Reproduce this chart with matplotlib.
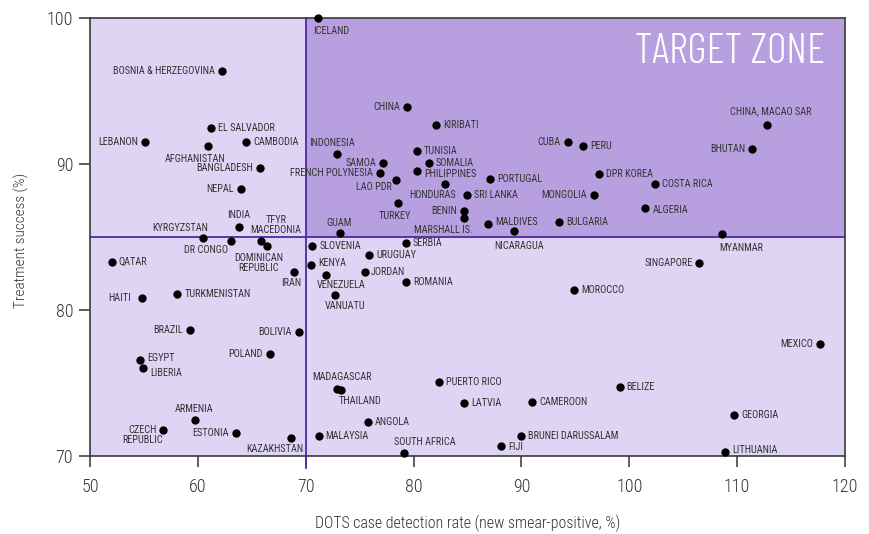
import matplotlib
matplotlib.use('Agg')
import matplotlib.pyplot as plt

# ---------------- data ----------------
countries = [
    "ICELAND", "BOSNIA & HERZEGOVINA", "CHINA", "KIRIBATI", "CHINA, MACAO SAR",
    "LEBANON", "EL SALVADOR", "CAMBODIA", "AFGHANISTAN", "INDONESIA",
    "TUNISIA", "CUBA", "PERU", "BHUTAN", "SAMOA", "SOMALIA", "BANGLADESH",
    "FRENCH POLYNESIA", "PHILIPPINES", "PORTUGAL", "DPR KOREA", "COSTA RICA",
    "LAO PDR", "HONDURAS", "SRI LANKA", "MONGOLIA", "NEPAL", "BENIN", "ALGERIA",
    "TURKEY", "MARSHALL IS.", "MALDIVES", "BULGARIA", "INDIA", "TFYR\nMACEDONIA",
    "KYRGYZSTAN", "GUAM", "DR CONGO", "SLOVENIA", "SERBIA", "NICARAGUA",
    "MYANMAR", "URUGUAY", "DOMINICAN\nREPUBLIC", "QATAR", "KENYA", "SINGAPORE",
    "IRAN", "JORDAN", "VENEZUELA", "ROMANIA", "MOROCCO", "HAITI", "TURKMENISTAN",
    "VANUATU", "BRAZIL", "BOLIVIA", "MEXICO", "MADAGASCAR", "POLAND", "EGYPT",
    "PUERTO RICO", "LIBERIA", "THAILAND", "BELIZE", "LATVIA", "CAMEROON",
    "ARMENIA", "ANGOLA", "GEORGIA", "CZECH\nREPUBLIC", "ESTONIA", "MALAYSIA",
    "BRUNEI DARUSSALAM", "KAZAKHSTAN", "SOUTH AFRICA", "FIJI", "LITHUANIA",
]
detection_rate = [
    71.1, 62.2, 79.4, 82.1, 112.8,
    55.1, 61.2, 64.5, 60.9, 72.9,
    80.3, 94.3, 95.7, 111.4, 77.2, 81.4, 65.8,
    76.9, 80.3, 87.1, 97.2, 102.4,
    78.4, 82.9, 85.0, 96.7, 64.0, 84.7, 101.5,
    78.6, 84.7, 86.9, 93.5, 63.8, 65.9,
    60.5, 73.2, 63.1, 70.6, 79.3, 89.3,
    108.6, 75.9, 66.4, 52.0, 70.5, 106.5,
    68.9, 75.5, 71.9, 79.3, 94.9, 54.8, 58.1,
    72.7, 59.3, 69.4, 117.7, 72.9, 66.7, 54.6,
    82.4, 54.9, 73.3, 99.1, 84.7, 91.0,
    59.7, 75.8, 109.7, 56.8, 63.5, 71.2,
    90.0, 68.6, 79.1, 88.1, 108.9,
]
treatment_success = [
    100.0, 96.4, 93.9, 92.7, 92.7,
    91.5, 92.5, 91.5, 91.2, 90.7,
    90.9, 91.5, 91.2, 91.0, 90.1, 90.1, 89.7,
    89.4, 89.5, 89.0, 89.3, 88.6,
    88.9, 88.6, 87.9, 87.9, 88.3, 86.8, 87.0,
    87.3, 86.3, 85.9, 86.0, 85.7, 84.7,
    84.9, 85.3, 84.7, 84.4, 84.6, 85.4,
    85.2, 83.8, 84.4, 83.3, 83.1, 83.2,
    82.6, 82.6, 82.4, 81.9, 81.4, 80.8, 81.1,
    81.0, 78.6, 78.5, 77.7, 74.6, 77.0, 76.6,
    75.1, 76.0, 74.5, 74.7, 73.6, 73.7,
    72.5, 72.3, 72.8, 71.8, 71.6, 71.4,
    71.4, 71.2, 70.2, 70.7, 70.3,
]
x_ticks = [50, 60, 70, 80, 90, 100, 110, 120]
y_ticks = [70, 80, 90, 100]
target_x = 70
target_y = 85

# ---------------- label placement (pixel offsets, style only) ----------------
R = (7, 0, 'left')
L = (-7, 0, 'right')
label_style = {
    "ICELAND": (-4, -12.7, 'left'), "BOSNIA & HERZEGOVINA": L, "CHINA": L,
    "KIRIBATI": R, "CHINA, MACAO SAR": (3, 13, 'center'), "LEBANON": L,
    "EL SALVADOR": R, "CAMBODIA": R, "AFGHANISTAN": (-12, -12.6, 'center'),
    "INDONESIA": (-5, 11, 'center'), "TUNISIA": R, "CUBA": L, "PERU": R,
    "BHUTAN": L, "SAMOA": L, "SOMALIA": R, "BANGLADESH": L,
    "FRENCH POLYNESIA": L, "PHILIPPINES": (7, -2.5, 'left'), "PORTUGAL": R,
    "DPR KOREA": R, "COSTA RICA": R, "LAO PDR": (-4, -6.7, 'right'),
    "HONDURAS": (-12.5, -11, 'center'), "SRI LANKA": R, "MONGOLIA": L,
    "NEPAL": L, "BENIN": L, "ALGERIA": (7, -2, 'left'),
    "TURKEY": (-4, -12.4, 'center'), "MARSHALL IS.": (-21, -11.6, 'center'),
    "MALDIVES": (7, 2, 'left'), "BULGARIA": R, "INDIA": (0, 11.3, 'center'),
    "TFYR\nMACEDONIA": (14.6, 16.7, 'center'), "KYRGYZSTAN": (-23, 10, 'center'),
    "GUAM": (-1, 10, 'center'), "DR CONGO": (-25, -9, 'center'),
    "SLOVENIA": R, "SERBIA": R, "NICARAGUA": (5, -15, 'center'),
    "MYANMAR": (19, -14, 'center'), "URUGUAY": R,
    "DOMINICAN\nREPUBLIC": (-8.5, -17, 'center'), "QATAR": R,
    "KENYA": (7, 1.5, 'left'), "SINGAPORE": L, "IRAN": (-3, -10.6, 'center'),
    "JORDAN": (6, 0, 'left'), "VENEZUELA": (15, -10.3, 'center'),
    "ROMANIA": R, "MOROCCO": R, "HAITI": (-10.7, 0, 'right'),
    "TURKMENISTAN": R, "VANUATU": (10, -11, 'center'), "BRAZIL": L,
    "BOLIVIA": (-8, 0, 'right'), "MEXICO": L,
    "MADAGASCAR": (4.6, 12, 'center'), "POLAND": L, "EGYPT": (7.5, 2, 'left'),
    "PUERTO RICO": R, "LIBERIA": (7, -5, 'left'),
    "THAILAND": (18.7, -11, 'center'), "BELIZE": R, "LATVIA": R,
    "CAMEROON": R, "ARMENIA": (-1, 10.7, 'center'), "ANGOLA": R,
    "GEORGIA": R, "CZECH\nREPUBLIC": (-21, -5.7, 'center'), "ESTONIA": L,
    "MALAYSIA": R, "BRUNEI DARUSSALAM": R,
    "KAZAKHSTAN": (-16, -10.6, 'center'), "SOUTH AFRICA": (21, 11, 'center'),
    "FIJI": (7, -1.5, 'left'), "LITHUANIA": (7, 2, 'left'),
}

FONT = ['Roboto Condensed', 'DejaVu Sans']
plt.rcParams['font.family'] = FONT

LIGHT_BG = '#E0D4F4'
ZONE_BG = '#B8A0E0'
DIVIDER = '#4A2AA8'
TEXT = '#333333'

fig = plt.figure(figsize=(8.69, 5.34), dpi=100)
ax = fig.add_axes([90 / 869, 78 / 534, 755 / 869, 438 / 534])
ax.set_facecolor(LIGHT_BG)
ax.set_xlim(x_ticks[0], x_ticks[-1])
ax.set_ylim(y_ticks[0], y_ticks[-1])

ax.add_patch(plt.Rectangle((target_x, target_y), x_ticks[-1] - target_x,
                           y_ticks[-1] - target_y, facecolor=ZONE_BG,
                           edgecolor='none', zorder=0))
ax.axhline(target_y, color=DIVIDER, lw=1.3, zorder=1)
ax.plot([target_x, target_x], [-0.027, 1], transform=ax.get_xaxis_transform(),
        color=DIVIDER, lw=1.3, zorder=3, clip_on=False)

ax.scatter(detection_rate, treatment_success, s=36, color='black', zorder=4,
           clip_on=False, linewidths=0)

for name, xv, yv in zip(countries, detection_rate, treatment_success):
    dx, dy, ha = label_style[name]
    ax.annotate(name, (xv, yv), xytext=(dx, dy), textcoords='offset pixels',
                ha=ha, va='center', ma='center', fontsize=7.4, color=TEXT,
                linespacing=1.0, zorder=5)

ax.text(0.9735, 0.9217, 'TARGET ZONE', transform=ax.transAxes, ha='right',
        va='center', fontsize=30.5, color='white', fontweight=300,
        family=['Barlow Condensed', 'Roboto Condensed', 'DejaVu Sans'])

ax.set_xticks(x_ticks)
ax.set_yticks(y_ticks)
ax.tick_params(direction='out', length=8, width=1.1, color='#333333',
               labelsize=13, labelcolor=TEXT)
ax.tick_params(axis='x', pad=8)
ax.tick_params(axis='y', pad=4)
for lbl in ax.get_xticklabels() + ax.get_yticklabels():
    lbl.set_fontweight(300)
for sp in ax.spines.values():
    sp.set_color('#3A3A3A')
    sp.set_linewidth(1.2)

ax.set_xlabel('DOTS case detection rate (new smear-positive, %)', fontsize=11.4,
              color=TEXT, fontweight=300, va='center')
ax.xaxis.set_label_coords(0.5, -0.153)
ax.set_ylabel('Treatment success (%)', fontsize=11, color=TEXT,
              fontweight=300, va='center')
ax.yaxis.set_label_coords(-0.0905, 0.493)

fig.savefig('out.png', dpi=100)
